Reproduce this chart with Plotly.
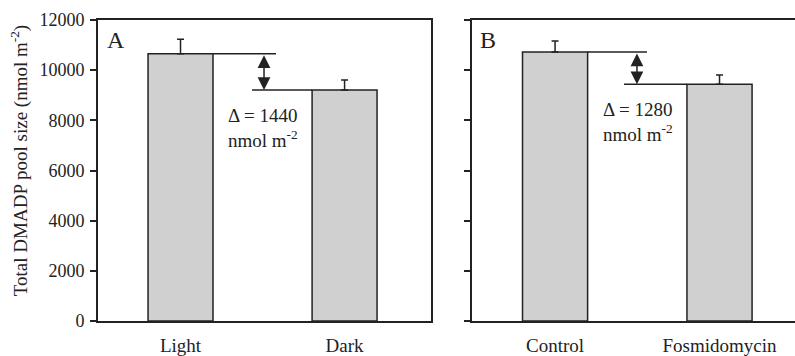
import plotly.graph_objects as go

# Data
cats_a = ["Light", "Dark"]
vals_a = [10650, 9210]
err_a = [580, 400]
cats_b = ["Control", "Fosmidomycin"]
vals_b = [10720, 9440]
err_b = [440, 370]
y_ticks = [0, 2000, 4000, 6000, 8000, 10000, 12000]
delta_a = vals_a[0] - vals_a[1]
delta_b = vals_b[0] - vals_b[1]

FONT = "Liberation Serif"
BAR_W = 0.396
BAR_FILL = "#d0d0d0"
LINE_C = "#222222"

fig = go.Figure()

def add_bars(cats, vals, errs, xa, ya):
    fig.add_trace(go.Bar(
        x=cats, y=vals, width=BAR_W, xaxis=xa, yaxis=ya,
        marker=dict(color=BAR_FILL, line=dict(color=LINE_C, width=1.5)),
        error_y=dict(type="data", array=errs, arrayminus=[0] * len(errs),
                     symmetric=False, color=LINE_C, thickness=1.5, width=3.5),
        showlegend=False, hoverinfo="x+y",
    ))

add_bars(cats_a, vals_a, err_a, "x", "y")
add_bars(cats_b, vals_b, err_b, "x2", "y2")

axis_common = dict(showgrid=False, zeroline=False, linecolor=LINE_C, linewidth=2)

fig.update_layout(
    width=795, height=356,
    margin=dict(l=98, r=0, t=20, b=33),
    paper_bgcolor="white", plot_bgcolor="white",
    font=dict(family=FONT, size=18, color="#222222"),
    xaxis=dict(domain=[0, 0.4778], range=[-0.503, 1.527], type="category",
               showline=True, mirror=True, ticks="", anchor="y",
               tickfont=dict(size=19), ticklabelstandoff=6, **axis_common),
    yaxis=dict(range=[0, 12000], tickvals=y_ticks, tickformat="d", ticks="outside",
               ticklen=6, tickwidth=1.5, tickcolor=LINE_C, showline=True, mirror=True,
               anchor="x", ticklabelstandoff=2, **axis_common),
    xaxis2=dict(domain=[0.5366, 1], range=[-0.505, 1.459], type="category",
                showline=True, mirror=True, ticks="", anchor="y2",
                tickfont=dict(size=19), ticklabelstandoff=6, **axis_common),
    yaxis2=dict(range=[0, 12000], tickvals=y_ticks, ticks="outside", ticklen=6,
                tickwidth=1.5, tickcolor=LINE_C, showline=True, showticklabels=False,
                anchor="x2", **axis_common),
)

# y-axis title
fig.add_annotation(xref="paper", yref="paper", x=-0.1133, y=0.531, xanchor="center",
                   yanchor="middle", textangle=-90, showarrow=False,
                   text="Total DMADP pool size (nmol m<sup>-2</sup>)",
                   font=dict(size=19, family=FONT))

def add_delta(xa, ya, vals, upper_end, lower_start, arrow_x, text_x, delta):
    xr, yr = xa, ya
    fig.add_shape(type="line", xref=xr, yref=yr, x0=0 + BAR_W / 2, x1=upper_end,
                  y0=vals[0], y1=vals[0], line=dict(color=LINE_C, width=1.5))
    fig.add_shape(type="line", xref=xr, yref=yr, x0=lower_start, x1=1 - BAR_W / 2,
                  y0=vals[1], y1=vals[1], line=dict(color=LINE_C, width=1.5))
    fig.add_annotation(xref=xr, yref=yr, x=arrow_x, y=vals[1], ax=arrow_x, ay=vals[0],
                       axref=xr, ayref=yr, showarrow=True, arrowhead=2, arrowside="end+start",
                       arrowsize=1.7, arrowwidth=1.5, arrowcolor=LINE_C, text="")
    fig.add_annotation(xref=xr, yref=yr, x=text_x, y=vals[1] - 500, xanchor="left",
                       yanchor="top", align="left", showarrow=False,
                       text=f"\u0394 = {delta}<br>nmol m<sup>-2</sup>",
                       font=dict(size=19, family=FONT))

add_delta("x", "y", vals_a, 0.582, 0.436, 0.509, 0.28, delta_a)
add_delta("x2", "y2", vals_b, 0.559, 0.419, 0.498, 0.28, delta_b)

fig.add_annotation(xref="x domain", yref="y domain", x=0.02, y=0.985, xanchor="left",
                   yanchor="top", text="A", showarrow=False, font=dict(size=24, family=FONT))
fig.add_annotation(xref="x2 domain", yref="y2 domain", x=0.02, y=0.985, xanchor="left",
                   yanchor="top", text="B", showarrow=False, font=dict(size=24, family=FONT))

fig.write_html("out.html")
